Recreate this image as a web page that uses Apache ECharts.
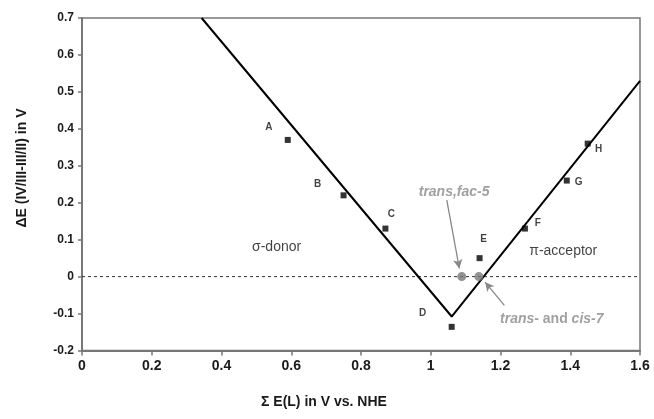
<!DOCTYPE html>
<html><head><meta charset="utf-8">
<script src="https://cdn.jsdelivr.net/npm/echarts@6/dist/echarts.min.js"></script>
<style>html,body{margin:0;padding:0;background:#fff}#c{width:654px;height:419px}</style>
</head><body><div id="c"></div>
<script>
const xTicks = [0,0.2,0.4,0.6,0.8,1,1.2,1.4,1.6];
const yTicks = [-0.2,-0.1,0,0.1,0.2,0.3,0.4,0.5,0.6,0.7];
const fitLine = [[0.343,0.7],[1.06,-0.108],[1.6,0.53]];
const pointNames = ['A','B','C','D','E','F','G','H'];
const pointX = [0.59,0.75,0.87,1.06,1.14,1.27,1.39,1.45];
const pointY = [0.37,0.22,0.13,-0.136,0.05,0.13,0.26,0.36];
const labelOffsets = [[-19,-13],[-26,-11],[6,-14],[-29,-14],[4,-19],[13,-5],[12,2],[11,6]];
const complexX = [1.089,1.138];
const complexY = [0,0];
const regionTexts = [['σ-donor',0.558,0.08],['π-acceptor',1.38,0.069]];
const annoTexts = [['{i|trans,fac}{i|-5}',1.067,0.229],['{i|trans}{b|- and }{i|cis}{i|-7}',1.347,-0.114]];
const arrows = [[[1.046,0.207],[1.082,0.022]],[[1.211,-0.078],[1.156,-0.015]]];

const fam = 'Liberation Sans, Arial, sans-serif';
const chart = echarts.init(document.getElementById('c'));
const fmt = v => { const r = Math.round(v*10)/10; return r === 0 ? '0' : String(r); };
chart.setOption({
  animation:false,
  grid:{left:82,top:18,right:14,bottom:68.5,show:true,borderColor:'#777',borderWidth:1.5,backgroundColor:'transparent'},
  xAxis:{type:'value',min:xTicks[0],max:xTicks[xTicks.length-1],interval:0.2,
    axisLine:{show:true,onZero:false,lineStyle:{color:'#777',width:2}},
    axisTick:{show:true,length:5,lineStyle:{color:'#777',width:1.5}},
    splitLine:{show:false},
    axisLabel:{formatter:fmt,color:'#1a1a1a',fontFamily:fam,fontWeight:'bold',fontSize:14,margin:9}},
  yAxis:{type:'value',min:yTicks[0],max:yTicks[yTicks.length-1],interval:0.1,
    axisLine:{show:true,onZero:false,lineStyle:{color:'#777',width:2}},
    axisTick:{show:true,length:4,lineStyle:{color:'#777',width:1.5}},
    splitLine:{show:false},
    axisLabel:{formatter:fmt,color:'#1a1a1a',fontFamily:fam,fontWeight:'bold',fontSize:12,margin:8}},
  graphic:[
    {type:'text',left:261,top:395,style:{text:'Σ E(L) in V vs. NHE',fill:'#1a1a1a',font:'bold 14px '+fam}},
    {type:'text',x:22,y:168,rotation:Math.PI/2,style:{text:'ΔE (IV/III-III/II) in V',fill:'#1a1a1a',font:'bold 14px '+fam,align:'center',verticalAlign:'middle'}}
  ],
  series:[
    {type:'line',data:[[xTicks[0],0],[xTicks[xTicks.length-1],0]],symbol:'none',lineStyle:{color:'#333',width:1,type:[3,3]},z:1},
    {type:'line',data:fitLine,symbol:'none',lineStyle:{color:'#000',width:2},z:2},
    {type:'scatter',symbol:'rect',symbolSize:6,itemStyle:{color:'#000'},z:4,
      data:pointNames.map((n,i)=>({value:[pointX[i],pointY[i]],name:n,
        label:{show:true,position:'inside',offset:labelOffsets[i],formatter:n,color:'#111',fontFamily:fam,fontWeight:'bold',fontSize:10}}))},
    {type:'scatter',symbol:'circle',symbolSize:9,itemStyle:{color:'#777'},z:3,
      data:complexX.map((x,i)=>[x,complexY[i]])},
    {type:'scatter',symbolSize:0,z:5,
      data:regionTexts.map(t=>({value:[t[1],t[2]],label:{show:true,position:'inside',formatter:t[0],color:'#111',fontFamily:fam,fontSize:14}}))},
    {type:'scatter',symbolSize:0,z:5,
      data:annoTexts.map(t=>({value:[t[1],t[2]],label:{show:true,position:'inside',formatter:t[0],
        rich:{i:{color:'#888',fontFamily:fam,fontWeight:'bold',fontStyle:'italic',fontSize:14},
              b:{color:'#888',fontFamily:fam,fontWeight:'bold',fontSize:14}}}}))},
    {type:'line',data:[],symbol:'none',
      markLine:{silent:true,symbol:['none','arrow'],symbolSize:[7,9],label:{show:false},
        lineStyle:{color:'#888',width:1.3,type:'solid'},
        data:arrows.map(a=>[{coord:a[0]},{coord:a[1]}])}}
  ]
});
</script></body></html>
